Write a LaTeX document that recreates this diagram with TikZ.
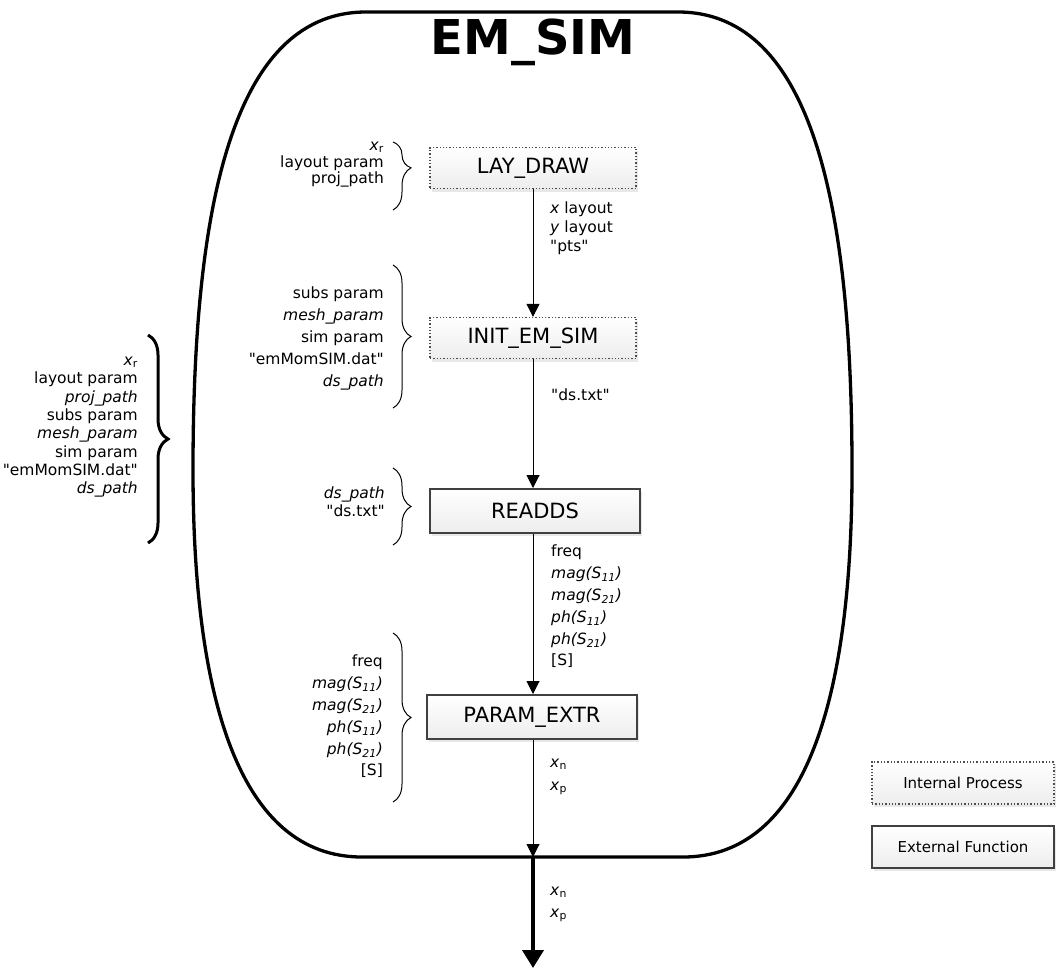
\documentclass[tikz,border=0pt]{standalone}
\usepackage{fontspec}
\setmainfont{DejaVu Sans}
\usetikzlibrary{arrows.meta,decorations.pathreplacing,shadows}

\newcommand{\xsub}[2]{\textit{#1}\textsubscript{#2}}
\newcommand{\qt}[1]{\textquotedbl#1\textquotedbl}

\tikzset{
    procbox/.style={minimum width=206pt, minimum height=41pt, inner sep=0pt,
        top color=white, bottom color=gray!14,
        drop shadow={shadow xshift=2pt, shadow yshift=-3pt, fill=gray!35, opacity=0.5},
        font=\fontsize{21}{24}\selectfont},
    internal/.style={procbox, draw=gray!60!black, dotted, line width=1.3pt},
    external/.style={procbox, draw=black!75, line width=2pt, minimum height=44pt, minimum width=210pt},
    flow/.style={-{Triangle[width=13pt,length=13pt]}, line width=1pt},
    bigflow/.style={-{Triangle[width=21pt,length=18pt]}, line width=4pt},
    lbl/.style={align=left, anchor=north west, inner sep=0pt, font=\fontsize{15.5}{21.8}\selectfont},
    rlbl/.style={align=right, anchor=north east, inner sep=0pt, font=\fontsize{15.5}{21.8}\selectfont},
    bracket/.style={decorate, decoration={brace, amplitude=18pt}, line width=1pt},
}

\begin{document}
\begin{tikzpicture}[x=1pt,y=-1pt]
    \useasboundingbox (0,0) rectangle (1056,969);

    % Outer block
    \draw[line width=3.3pt] (366,12) -- (678,12)
        .. controls (820,12) and (852,230) .. (852,470)
        .. controls (852,700) and (805,857) .. (683,857) -- (362,857)
        .. controls (240,857) and (193,700) .. (193,470)
        .. controls (193,230) and (225,12) .. (366,12) -- cycle;
    \node[font=\fontsize{48}{52}\selectfont\bfseries] (title) at (533,42) {EM\_SIM};

    % Processes
    \node[internal] (lay) at (533,168) {LAY\_DRAW};
    \node[internal] (init) at (533,338) {INIT\_EM\_SIM};
    \node[external] (readds) at (535,511) {READDS};
    \node[external] (param) at (532,717) {PARAM\_EXTR};
    \coordinate (exit) at (533,857);
    \coordinate (out) at (533,968);

    % Data flow
    \draw[flow] (lay.south -| 533,0) -- (init.north -| 533,0);
    \draw[flow] (init.south -| 533,0) -- (readds.north -| 533,0);
    \draw[flow] (readds.south -| 533,0) -- (param.north -| 533,0);
    \draw[flow] (param.south -| 533,0) -- (exit);
    \draw[bigflow] (exit) -- (out);

    % Inputs
    \draw[bracket, decoration={aspect=0.38}] (393,142) -- (393,210);
    \node[rlbl, font=\fontsize{15.5}{16.5}\selectfont] (layin) at (384,142)
        {\xsub{x}{r}\\layout param\\proj\_path};
    \draw[bracket] (393,265) -- (393,408);
    \node[rlbl] (initin) at (384,287)
        {subs param\\\textit{mesh\_param}\\sim param\\\qt{emMomSIM.dat}\\\textit{ds\_path}};
    \draw[bracket] (393,468) -- (393,545);
    \node[rlbl, font=\fontsize{15.5}{18}\selectfont] (readin) at (385,487)
        {\textit{ds\_path}\\\qt{ds.txt}};
    \draw[bracket] (393,633) -- (393,802);
    \node[rlbl] (paramin) at (383,655)
        {freq\\\textit{mag(S\textsubscript{11})}\\\textit{mag(S\textsubscript{21})}\\\textit{ph(S\textsubscript{11})}\\\textit{ph(S\textsubscript{21})}\\{[S]}};

    % Inputs of the whole block
    \draw[bracket, line width=3pt, decoration={amplitude=20pt}] (148,335) -- (148,543);
    \node[rlbl, font=\fontsize{15.5}{18.3}\selectfont] (simin) at (138,357)
        {\xsub{x}{r}\\layout param\\\textit{proj\_path}\\subs param\\\textit{mesh\_param}\\sim param\\\qt{emMomSIM.dat}\\\textit{ds\_path}};

    % Outputs
    \node[lbl, font=\fontsize{15.5}{19}\selectfont] (layout) at (550,202)
        {\textit{x} layout\\\textit{y} layout\\\qt{pts}};
    \node[lbl] (initout) at (551,389) {\qt{ds.txt}};
    \node[lbl] (readout) at (551,545)
        {freq\\\textit{mag(S\textsubscript{11})}\\\textit{mag(S\textsubscript{21})}\\\textit{ph(S\textsubscript{11})}\\\textit{ph(S\textsubscript{21})}\\{[S]}};
    \node[lbl, font=\fontsize{15.5}{23}\selectfont] (paramout) at (550,759) {\xsub{x}{n}\\\xsub{x}{p}};
    \node[lbl, font=\fontsize{15.5}{22}\selectfont] (simout) at (550,887) {\xsub{x}{n}\\\xsub{x}{p}};

    % Legend
    \node[internal, minimum width=182pt, minimum height=42pt, font=\fontsize{15}{18}\selectfont] (keyint) at (963,783) {Internal Process};
    \node[external, minimum width=182pt, minimum height=42pt, font=\fontsize{15}{18}\selectfont] (keyext) at (963,847) {External Function};
\end{tikzpicture}
\end{document}
